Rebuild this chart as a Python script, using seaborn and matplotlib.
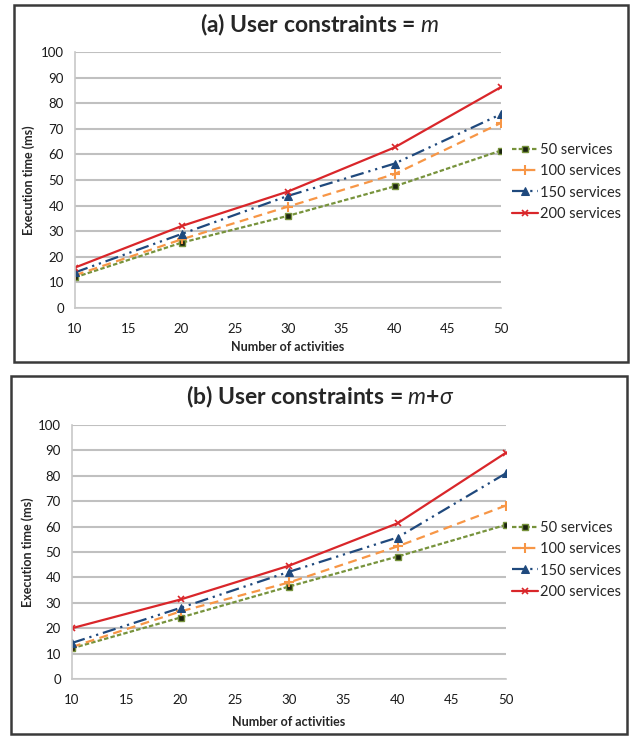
import matplotlib
matplotlib.use("Agg")
import matplotlib.pyplot as plt
from matplotlib.patches import Rectangle
import seaborn as sns
import pandas as pd

# Number of activities on the x axis
activities = [10, 20, 30, 40, 50]

# (a) User constraints = m  -- execution time (ms)
a_50 = [12.0, 25.5, 36.0, 47.5, 61.5]
a_100 = [12.8, 26.8, 39.6, 52.3, 72.3]
a_150 = [13.9, 28.9, 43.8, 56.4, 75.7]
a_200 = [15.8, 32.0, 45.5, 62.7, 86.3]

# (b) User constraints = m+sigma  -- execution time (ms)
b_50 = [12.1, 24.2, 36.4, 48.2, 60.7]
b_100 = [12.6, 26.6, 38.0, 52.2, 68.3]
b_150 = [14.2, 28.0, 42.2, 55.7, 81.0]
b_200 = [20.0, 31.3, 44.6, 61.3, 89.1]

series_names = ["50 services", "100 services", "150 services", "200 services"]
x_ticks = [10, 15, 20, 25, 30, 35, 40, 45, 50]
y_ticks = [0, 10, 20, 30, 40, 50, 60, 70, 80, 90, 100]

sns.set_theme(style="white")
plt.rcParams["font.family"] = ["Lato", "DejaVu Sans"]
plt.rcParams["mathtext.fontset"] = "custom"
plt.rcParams["mathtext.rm"] = "Lato"
plt.rcParams["mathtext.it"] = "Lato:italic"
plt.rcParams["mathtext.fallback"] = "stixsans"

W, H = 633, 738
fig = plt.figure(figsize=(W / 100, H / 100), dpi=100)
fig.patch.set_facecolor("white")

styles = {
    "50 services": dict(color="#77933C", marker="s", ms=5, mfc="#1c2410", mec="#77933C",
                        mew=1.0, linestyle=(0, (2.0, 1.0)), lw=1.6),
    "100 services": dict(color="#F79646", marker="+", ms=7, mew=1.5, mec="#F79646",
                         linestyle=(0, (4.0, 2.5)), lw=1.6),
    "150 services": dict(color="#1F497D", marker="^", ms=5.5, mfc="#1F497D", mec="#1F497D",
                         linestyle=(0, (6.0, 2.2, 1.0, 2.2, 1.0, 2.2)), lw=1.6),
    "200 services": dict(color="#D9262A", marker="x", ms=5, mew=1.2, mec="#D9262A",
                         linestyle="-", lw=1.6),
}


def px_rect(l, t, r, b):
    return [l / W, 1 - b / H, (r - l) / W, (b - t) / H]


def panel(box, ax_box, values, title, title_y, xlabel_y, ylabel_x, legend_y):
    # Panel frame
    l, t, r, b = box
    fig.add_artist(Rectangle((l / W, 1 - b / H), (r - l) / W, (b - t) / H,
                             transform=fig.transFigure, fill=False,
                             edgecolor="#3a3a3a", lw=1.8))
    ax = fig.add_axes(px_rect(*ax_box))
    df = pd.DataFrame({
        "activities": activities * 4,
        "time": sum(values, []),
        "series": sum([[n] * len(activities) for n in series_names], []),
    })
    for name in series_names:
        sub = df[df["series"] == name]
        sns.lineplot(data=sub, x="activities", y="time", ax=ax, label=name,
                     **styles[name])
    ax.set_xlim(10, 50)
    ax.set_ylim(0, 100)
    ax.set_xticks(x_ticks)
    ax.set_yticks(y_ticks)
    ax.set_xlabel("")
    ax.set_ylabel("")
    ax.grid(axis="y", color="#C0C0C0", lw=1.5)
    ax.grid(axis="x", visible=False)
    ax.set_axisbelow(True)
    for s in ["top", "right"]:
        ax.spines[s].set_visible(False)
    for s in ["left", "bottom"]:
        ax.spines[s].set_color("#C8C8C8")
        ax.spines[s].set_linewidth(1.2)
    ax.tick_params(axis="x", length=0, pad=11, labelsize=9.5, labelcolor="#1a1a1a")
    ax.tick_params(axis="y", length=0, pad=8, labelsize=9.5, labelcolor="#1a1a1a")
    ax.set_facecolor("white")
    handles, labels = ax.get_legend_handles_labels()
    ax.legend(handles, labels, loc="upper left",
              bbox_to_anchor=(512 / W, 1 - legend_y / H),
              bbox_transform=fig.transFigure, frameon=False,
              fontsize=10.5, handlelength=1.8, handletextpad=0.15,
              labelspacing=0.5, borderaxespad=0, borderpad=0)
    fig.text(320 / W, 1 - title_y / H, title, ha="center", va="center",
             fontsize=16.5, fontweight="bold")
    ax_l, ax_t, ax_r, ax_b = ax_box
    fig.text((ax_l + ax_r) / 2 / W, 1 - xlabel_y / H, "Number of activities",
             ha="center", va="center", fontsize=9, fontweight="bold")
    fig.text(ylabel_x / W, 1 - (ax_t + ax_b) / 2 / H, "Execution time (ms)",
             ha="center", va="center", rotation=90, fontsize=9, fontweight="bold")
    return ax


panel((14, 5, 628, 362), (75, 52, 501, 308),
      [a_50, a_100, a_150, a_200], "(a) User constraints = $m$",
      25, 347, 29, 143)
panel((11, 376, 627, 734), (72, 425, 506, 679),
      [b_50, b_100, b_150, b_200], "(b) User constraints = $m$+$σ$",
      397, 722, 28, 521)

fig.savefig("out.png", dpi=100, facecolor="white")
